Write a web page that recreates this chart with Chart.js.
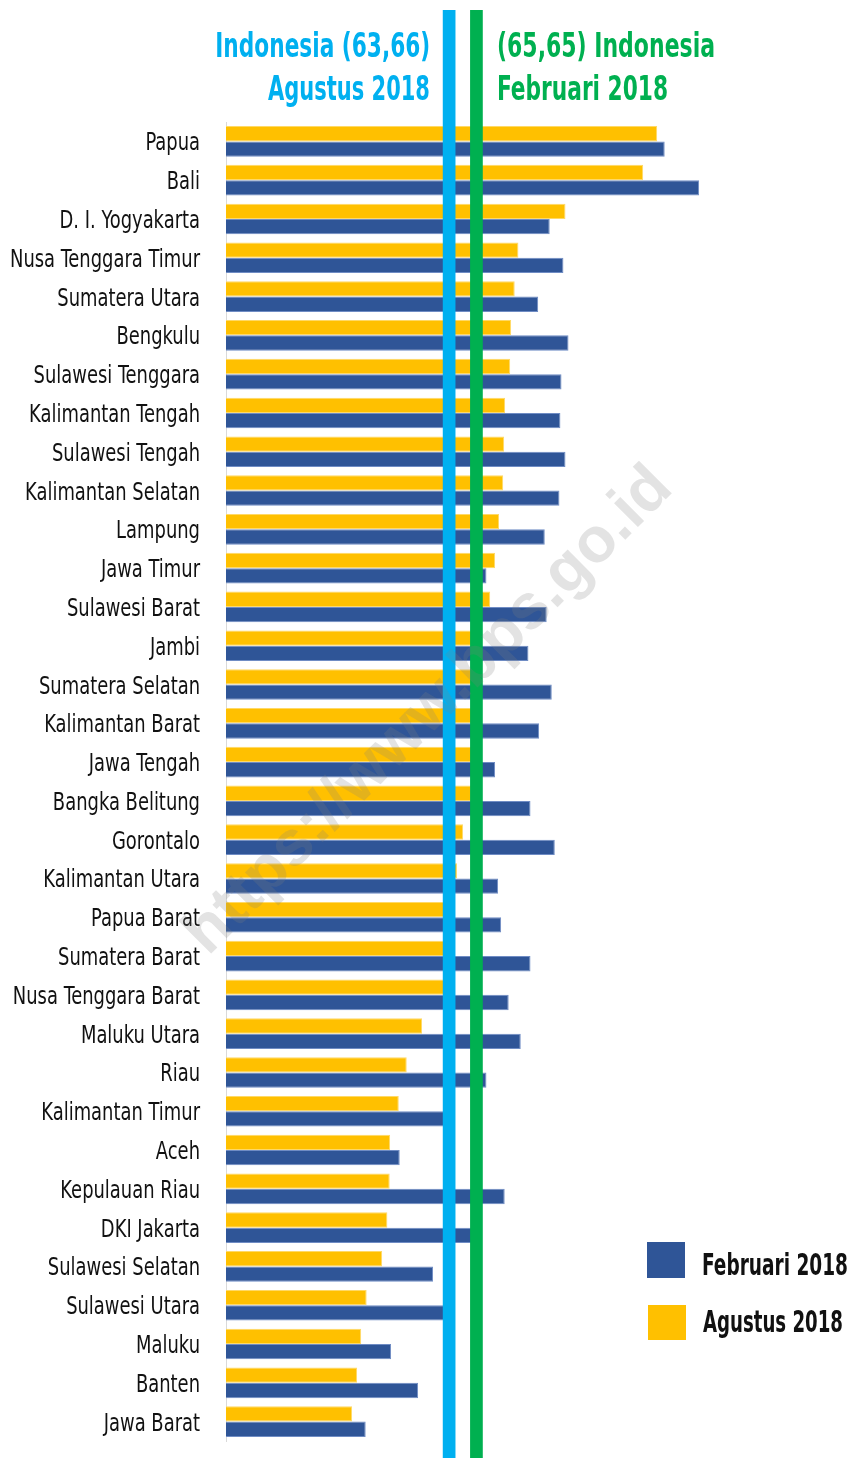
<!DOCTYPE html>
<html><head><meta charset="utf-8">
<script src="https://cdn.jsdelivr.net/npm/chart.js@4.4.1/dist/chart.umd.min.js"></script>
<style>
html,body{margin:0;padding:0;background:#fff;}
#wrap{position:relative;width:853px;height:1458px;overflow:hidden;background:#fff;}
#c{position:absolute;left:0;top:0;}
.t{position:absolute;white-space:nowrap;font-family:"Liberation Sans Narrow","DejaVu Sans Condensed",sans-serif;font-weight:bold;line-height:1;}
.sq{position:absolute;}
</style></head>
<body><div id="wrap">
<canvas id="c" width="853" height="1458"></canvas>
<div class="t fit" data-w="215" data-align="right" style="right:423px;top:28px;font-size:34px;color:#00B0F0;">Indonesia (63,66)</div>
<div class="t fit" data-w="162" data-align="right" style="right:423px;top:71px;font-size:34px;color:#00B0F0;">Agustus 2018</div>
<div class="t fit" data-w="218" data-align="left" style="left:497px;top:28px;font-size:34px;color:#00B050;">(65,65) Indonesia</div>
<div class="t fit" data-w="171" data-align="left" style="left:497px;top:71px;font-size:34px;color:#00B050;">Februari 2018</div>
<div class="sq" style="left:647px;top:1242px;width:38px;height:36px;background:#2F5597;"></div>
<div class="sq" style="left:648px;top:1305px;width:38px;height:35px;background:#FFC000;"></div>
<div class="t fit" data-w="146" data-align="left" style="left:702px;top:1250px;font-size:30px;color:#111;">Februari 2018</div>
<div class="t fit" data-w="140" data-align="left" style="left:703px;top:1307px;font-size:30px;color:#111;">Agustus 2018</div>
</div>
<script>
const provinces = ["Papua","Bali","D. I. Yogyakarta","Nusa Tenggara Timur","Sumatera Utara","Bengkulu","Sulawesi Tenggara","Kalimantan Tengah","Sulawesi Tengah","Kalimantan Selatan","Lampung","Jawa Timur","Sulawesi Barat","Jambi","Sumatera Selatan","Kalimantan Barat","Jawa Tengah","Bangka Belitung","Gorontalo","Kalimantan Utara","Papua Barat","Sumatera Barat","Nusa Tenggara Barat","Maluku Utara","Riau","Kalimantan Timur","Aceh","Kepulauan Riau","DKI Jakarta","Sulawesi Selatan","Sulawesi Utara","Maluku","Banten","Jawa Barat"];
const agustus2018 = [78.82,77.80,72.14,68.71,68.44,68.18,68.11,67.74,67.67,67.60,67.30,67.01,66.65,66.01,65.87,65.72,65.50,65.29,64.68,64.24,63.97,63.75,63.46,61.69,60.57,59.99,59.36,59.33,59.16,58.78,57.65,57.25,56.95,56.59];
const februari2018 = [79.37,81.88,70.99,71.99,70.15,72.36,71.85,71.77,72.14,71.70,70.63,66.38,70.77,69.44,71.14,70.22,67.01,69.59,71.36,67.23,67.45,69.59,68.00,68.88,66.38,63.61,60.06,67.71,65.58,62.49,63.46,59.43,61.40,57.58];
const indonesiaAgustus = 63.66;
const indonesiaFebruari = 65.65;
const watermark = "https://www.bps.go.id";

// fit text widths
document.querySelectorAll('.fit').forEach(el => {
  const w = el.getBoundingClientRect().width;
  const target = +el.dataset.w;
  el.style.transformOrigin = el.dataset.align === 'right' ? 'right top' : 'left top';
  el.style.transform = 'scaleX(' + (target / w).toFixed(4) + ')';
});

const LABEL_FONT = '24px "Liberation Sans Narrow", "DejaVu Sans Condensed", sans-serif';

const overlay = {
  id: 'overlay',
  afterDatasetsDraw(chart) {
    const {ctx} = chart;
    const xs = chart.scales.x;
    const draw = (v, color) => {
      const x = xs.getPixelForValue(v);
      ctx.save();
      ctx.fillStyle = color;
      ctx.fillRect(x - 6.35, 10, 12.7, chart.height - 10);
      ctx.restore();
    };
    draw(indonesiaAgustus, '#00B0F0');
    draw(indonesiaFebruari, '#00B050');
  },
  afterDraw(chart) {
    const {ctx} = chart;
    const ys = chart.scales.y;
    // category labels (condensed horizontally)
    ctx.save();
    ctx.font = LABEL_FONT;
    const k = 190 / ctx.measureText('Nusa Tenggara Timur').width;
    ctx.fillStyle = '#111';
    ctx.textAlign = 'right';
    ctx.textBaseline = 'alphabetic';
    ys.ticks.forEach((t, i) => {
      const y = ys.getPixelForTick(i);
      ctx.save();
      ctx.translate(ys.right - 26, y + 9);
      ctx.scale(k, 1);
      ctx.fillText(ys.getLabelForValue(t.value), 0, 0);
      ctx.restore();
    });
    ctx.restore();
    // watermark
    ctx.save();
    ctx.translate(429, 711);
    ctx.rotate(-Math.PI / 4);
    ctx.font = 'bold 62px "Liberation Sans", Arial, sans-serif';
    const w = ctx.measureText(watermark).width;
    ctx.scale(660 / w, 660 / w);
    ctx.fillStyle = 'rgba(128,128,128,0.22)';
    ctx.textAlign = 'center';
    ctx.textBaseline = 'middle';
    ctx.fillText(watermark, 0, 0);
    ctx.restore();
  }
};

new Chart(document.getElementById('c'), {
  type: 'bar',
  data: {
    labels: provinces,
    datasets: [
      {label: 'Agustus 2018', data: agustus2018, backgroundColor: '#FFC000', borderColor: '#FFD966', borderWidth: 1, borderSkipped: false},
      {label: 'Februari 2018', data: februari2018, backgroundColor: '#2F5597', borderColor: '#6F8CC4', borderWidth: 1, borderSkipped: false}
    ]
  },
  options: {
    indexAxis: 'y',
    responsive: false,
    devicePixelRatio: 1,
    animation: false,
    layout: {padding: {top: 122, bottom: 17, right: 133, left: 0}},
    datasets: {bar: {categoryPercentage: 0.79, barPercentage: 1.0}},
    plugins: {legend: {display: false}, tooltip: {enabled: false}},
    scales: {
      x: {display: false, min: 47.4, max: 83.4},
      y: {
        grid: {display: false, drawTicks: false},
        border: {display: true, color: '#D9D9D9', width: 1},
        ticks: {display: false, padding: 0},
        afterFit(s) { s.width = 226; }
      }
    }
  },
  plugins: [overlay]
});
</script>
</body></html>
